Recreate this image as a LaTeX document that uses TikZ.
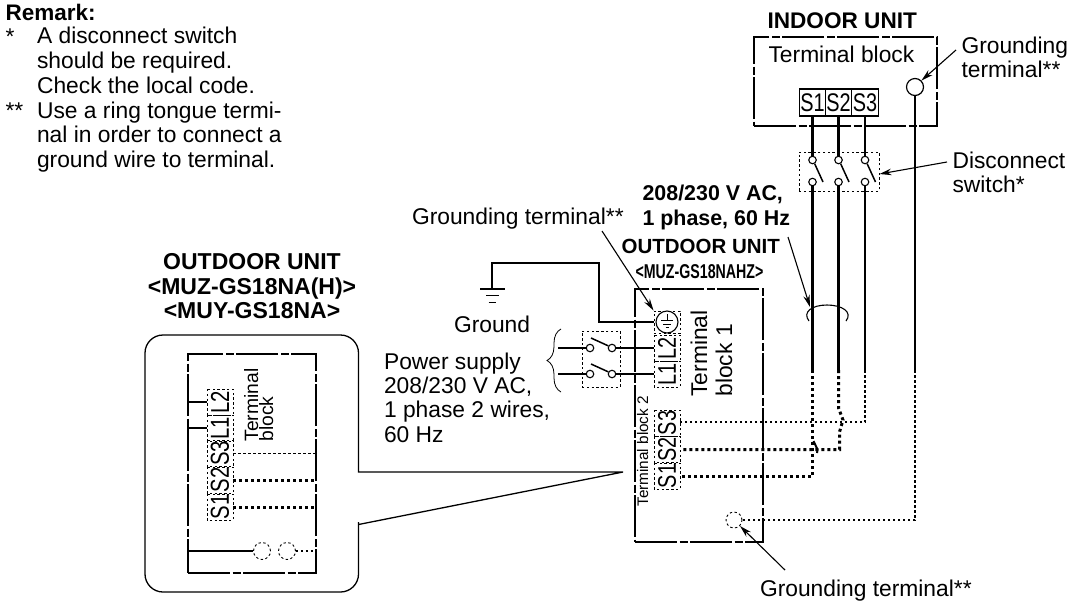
\documentclass[tikz,border=0pt]{standalone}
\usepackage{fontspec}
\usepackage{graphicx}
\setmainfont{Liberation Sans}
\usetikzlibrary{arrows.meta,decorations.pathreplacing}
\newcommand{\fs}[1]{\fontsize{#1}{#1}\selectfont}
\newcommand{\tname}[2][25.5]{\scalebox{.78}[1]{\fs{#1}#2}}
\newcommand{\model}[1]{\scalebox{.71}[1]{\fs{20}\bfseries #1}}
\begin{document}
\begin{tikzpicture}[x=1pt,y=-1pt,line width=1.1pt,
  lbl/.style={font=\fs{22.8},anchor=base west,inner sep=0pt},
  hdr/.style={font=\fs{21.4}\bfseries,anchor=base west,inner sep=0pt},
  big/.style={font=\fs{23}\bfseries,anchor=base,inner sep=0pt},
  unit/.style={draw,line width=1.05pt,dash pattern=on 42pt off 2.5pt on 8pt off 2.5pt,inner sep=0pt},
  term/.style={draw,line width=1.2pt,inner sep=0pt,minimum width=26.3pt,minimum height=27pt},
  dterm/.style={draw,line width=.9pt,dash pattern=on 2.4pt off 2.4pt,inner sep=0pt,minimum width=26pt,minimum height=26pt,rotate=90},
  dbox/.style={draw,line width=.9pt,dash pattern=on 2.4pt off 2.4pt,inner sep=0pt},
  pin/.style={draw,circle,fill=white,line width=1.1pt,inner sep=0pt,minimum size=7.5pt},
  thin wire/.style={line width=1.5pt},
  fat wire/.style={line width=3.3pt},
  dot wire/.style={line width=1.2pt,dash pattern=on 2.5pt off 2.5pt},
  fat dot/.style={line width=3pt,dash pattern=on 3pt off 3pt},
  lead/.style={line width=1.1pt,-{Stealth[length=12pt,width=6.5pt]}}]
\useasboundingbox (0,0) rectangle (1070,603);

% remark
\node[hdr,font=\fs{22.5}\bfseries] (rem) at (5,20) {Remark:};
\node[lbl] (st1) at (5,44) {*};
\node[lbl] (st2) at (5,118) {**};
\foreach \nm/\yy/\tx in {r1/43.5/A disconnect switch,r2/68.5/should be required.,r3/93/Check the local code.,r4/118/Use a ring tongue termi-,r5/142.5/nal in order to connect a,r6/167/ground wire to terminal.}
  \node[lbl] (\nm) at (36.5,\yy) {\tx};

% indoor unit
\node[hdr,font=\fs{22.6}\bfseries] (inT) at (767,28) {INDOOR UNIT};
\node[unit,minimum width=183pt,minimum height=89pt] (inU) at (845.5,81.5) {};
\node[lbl] (inB) at (768,62) {Terminal block};
\node[term] (tS1) at (812.5,102.5) {\tname{S1}};
\node[term] (tS2) at (838.5,102.5) {\tname{S2}};
\node[term] (tS3) at (865,102.5) {\tname{S3}};
\node[draw,circle,fill=white,line width=1.2pt,inner sep=0pt,minimum size=17pt] (gI) at (915,87) {};
\node[lbl] (gIa) at (961,53) {Grounding};
\node[lbl] (gIb) at (961,77) {terminal**};
\coordinate (gIt) at (956,50);
\draw[lead] (gIt) -- (gI.north east);

% disconnect switch
\node[dbox,minimum width=80pt,minimum height=39pt] (swI) at (839,171.5) {};
\foreach \n/\xx in {1/812.5,2/838.5,3/865} {
  \node[pin] (a\n) at (\xx,160) {};
  \node[pin] (b\n) at (\xx,182) {};
  \coordinate (k\n) at (\xx+10.5,182);
  \coordinate (c\n) at (\xx,370);
  \draw[thin wire] (a\n.-60) -- (k\n);
}
\node[lbl] (dsa) at (952,168) {Disconnect};
\node[lbl] (dsb) at (952,192) {switch*};
\coordinate (dst) at (947,162);
\draw[lead] (dst) -- (swI.east |- 0,174);

% supply wires
\draw[fat wire] (tS1) -- (a1) (b1) -- (c1);
\draw[fat wire] (tS2) -- (a2) (b2) -- (c2);
\draw[thin wire] (tS3) -- (a3) (b3) -- (c3);
\coordinate (c4) at (915,370);
\draw[thin wire] (gI) -- (c4);

% cable tie
\coordinate (tieL) at (809,321);
\coordinate (tieT) at (827,305);
\coordinate (tieR) at (846,321);
\draw[line width=1.1pt] (tieL) .. controls (802,312) and (812,305) .. (tieT) .. controls (842,305) and (853,312) .. (tieR);
\node[hdr] (va) at (642,200) {208/230 V AC,};
\node[hdr] (vb) at (642,225) {1 phase, 60 Hz};
\coordinate (vt) at (788,237);
\coordinate (vh) at (810,307);
\draw[lead] (vt) -- (vh);

% outdoor unit
\node[hdr,font=\fs{20.5}\bfseries] (ouT) at (621,253) {OUTDOOR UNIT};
\node[anchor=base west,inner sep=0pt] (ouM) at (635,278) {\model{<MUZ-GS18NAHZ>}};
\node[unit,minimum width=128pt,minimum height=253pt] (ouU) at (699,415.5) {};
\node[dbox,minimum width=26pt,minimum height=22pt] (ogB) at (667,322) {};
\node[draw,circle,line width=1.1pt,inner sep=0pt,minimum size=22pt] (ogC) at (667,322) {};
\coordinate (e0) at (667,314);
\coordinate (e1) at (667,320);
\draw[line width=1pt] (e0) -- (e1) (661,320) -- (673,320) (663,324) -- (671,324) (665.5,327.5) -- (668.5,327.5);
\node[dterm] (oL2) at (667,348) {\tname{L2}};
\node[dterm] (oL1) at (667,374) {\tname{L1}};
\node[dterm] (oS3) at (667,423) {\tname{S3}};
\node[dterm] (oS2) at (667,449.5) {\tname{S2}};
\node[dterm] (oS1) at (667,476) {\tname{S1}};
\node[lbl,rotate=90] (tb1a) at (707,397) {Terminal};
\node[lbl,rotate=90] (tb1b) at (732,397) {block 1};
\node[lbl,font=\fs{15.3},rotate=90] (tb2) at (648,507) {Terminal block 2};
\node[draw,circle,line width=.9pt,dash pattern=on 2.4pt off 2.4pt,inner sep=0pt,minimum size=16pt] (ogD) at (734,520) {};

% wires between the units
\coordinate (j3) at (865,422);
\coordinate (j2a) at (838.5,408);
\coordinate (j2b) at (843,420);
\coordinate (j2c) at (839.5,432);
\coordinate (j2d) at (839.5,449.5);
\coordinate (j1) at (812.5,476);
\coordinate (s1a) at (813.5,441);
\coordinate (s1b) at (817.5,449.5);
\coordinate (s1c) at (817,453);
\draw[dot wire] (c3) -- (j3) -- (oS3.south |- j3);
\draw[fat dot] (c2) -- (j2a) -- (j2b) -- (j2c) -- (j2d) -- (oS2.south);
\draw[fat dot] (c1) -- (j1) -- (oS1.south |- j1);
\draw[line width=2pt] (s1a) -- (s1b) -- (s1c);
\draw[dot wire] (c4) |- (ogD.east);
\node[lbl] (gOb) at (759.5,596) {Grounding terminal**};
\coordinate (gOt) at (785,570);
\draw[lead] (gOt) -- (ogD.-45);

% ground
\node[lbl] (gtx) at (411.5,224) {Grounding terminal**};
\coordinate (gtt) at (602,231);
\draw[lead] (gtt) -- (ogB.north west);
\coordinate (ek) at (599,263);
\coordinate (eb) at (492,289);
\draw (ogB.west) -| (ek) -| (eb);
\draw (480,289) -- (505,289) (486,295.5) -- (499,295.5) (488.5,302.5) -- (496,302.5);
\node[lbl] (gnd) at (453.5,332) {Ground};

% power supply
\foreach \nm/\yy/\tx in {p1/369/Power supply,p2/393/{208/230 V AC,},p3/417/{1 phase 2 wires,},p4/442/60 Hz}
  \node[lbl] (\nm) at (383.5,\yy) {\tx};
\draw[decorate,decoration={brace,amplitude=14pt},line width=.8pt] (561,392) -- (561,329);
\node[dbox,minimum width=38pt,minimum height=56pt] (swO) at (601,359) {};
\foreach \n/\term/\yy in {1/oL2/348,2/oL1/374} {
  \coordinate (f\n) at (558,\yy);
  \node[pin] (pa\n) at (590,\yy) {};
  \node[pin] (pb\n) at (612,\yy) {};
  \coordinate (q\n) at (591,\yy-10);
  \draw (f\n) -- (pa\n) (pb\n) -- (\term.north);
  \draw[thin wire] (q\n) -- (pb\n.150);
}

% outdoor unit with other models
\node[big] (auT) at (252,269) {OUTDOOR UNIT};
\node[big] (auA) at (252,294) {<MUZ-GS18NA(H)>};
\node[big] (auB) at (252,318) {<MUY-GS18NA>};
\draw[line width=1.3pt] (358.5,472) [rounded corners=18pt] -- (358.5,335) -- (145,335) -- (145,592) -- (358.5,592) -- (358.5,540) [sharp corners] -- (358.5,524.5) -- (623,472) -- cycle;
\node[unit,minimum width=128pt,minimum height=219pt] (inS) at (252,463.5) {};
\node[dterm] (iL2) at (220,402) {\tname[26]{L2}};
\node[dterm] (iL1) at (220,428) {\tname[26]{L1}};
\node[dterm] (iS3) at (220,453.5) {\tname[26]{S3}};
\node[dterm] (iS2) at (220,480) {\tname[26]{S2}};
\node[dterm] (iS1) at (220,507) {\tname[26]{S1}};
\node[lbl,font=\fs{19.3},rotate=90] (itb1) at (258,442) {Terminal};
\node[lbl,font=\fs{19.3},rotate=90] (itb2) at (273,442) {block};
\draw (iL2.north) -- (iL2.north -| inS.west);
\draw (iL1.north) -- (iL1.north -| inS.west);
\draw[dot wire] (iS3.south) -- (iS3.south -| inS.east);
\draw[fat dot] (iS2.south) -- (iS2.south -| inS.east);
\draw[fat dot] (iS1.south) -- (iS1.south -| inS.east);
\node[draw,circle,line width=.9pt,dash pattern=on 2.4pt off 2.4pt,inner sep=0pt,minimum size=17pt] (ic1) at (262,551) {};
\node[draw,circle,line width=.9pt,dash pattern=on 2.4pt off 2.4pt,inner sep=0pt,minimum size=17pt] (ic2) at (287,551) {};
\draw (ic1.west) -- (ic1.west -| inS.west);
\draw[dot wire] (ic2.east) -- (ic2.east -| inS.east);
\end{tikzpicture}
\end{document}
